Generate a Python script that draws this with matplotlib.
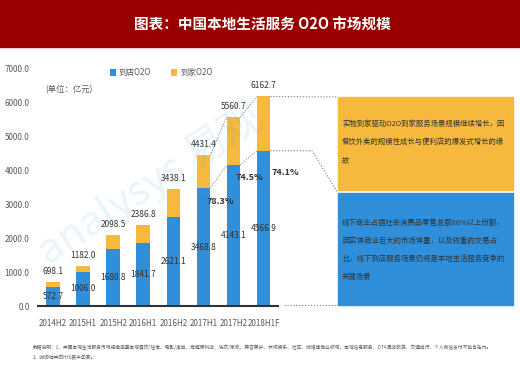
import numpy as np
import matplotlib
matplotlib.use("Agg")
import matplotlib.pyplot as plt
from matplotlib.patches import Rectangle
from matplotlib.lines import Line2D

plt.rcParams['font.family'] = ['Noto Sans CJK SC', 'DejaVu Sans']

# data
periods = ['2014H2', '2015H1', '2015H2', '2016H1', '2016H2', '2017H1', '2017H2', '2018H1F']
store = [572.7, 1006.0, 1680.8, 1841.7, 2621.1, 3468.8, 4143.1, 4566.9]     # 到店O2O
total = [698.1, 1182.0, 2098.5, 2386.8, 3438.1, 4431.4, 5560.7, 6162.7]     # 到店+到家
home = [t - s for t, s in zip(total, store)]                                 # 到家O2O
share_txt = ['78.3%', '74.5%', '74.1%']
share_xy = [(5.55, 3060), (6.51, 3790), (7.72, 3940)]

blue = '#2F8FDA'
orange = '#F6B93D'
gray = '#595959'
W, H = 520, 382

fig = plt.figure(figsize=(5.2, 3.82), dpi=100)

def fx(px):
    return px / W

def fy(py):
    return 1 - py / H

# title bar
fig.add_artist(Rectangle((0, fy(47)), 1, 47 / H, transform=fig.transFigure,
                         color='#990000', zorder=0))
fig.text(0.505, fy(25), '图表：中国本地生活服务 O2O 市场规模', color='white',
         fontsize=10.5, fontweight='bold', ha='center', va='center')

ax = fig.add_axes([fx(38), fy(306), fx(278) - fx(38), fy(68) - fy(306)])
x = np.arange(len(periods))
w = 0.45
ax.bar(x, store, w, color=blue, label='到店O2O', zorder=2)
ax.bar(x, home, w, bottom=store, color=orange, label='到家O2O', zorder=2)

ax.set_xlim(-0.5, 7.48)
ax.set_ylim(0, 7000)
ax.set_yticks(np.arange(0, 7001, 1000))
ax.set_yticklabels([f'{v:.1f}' for v in np.arange(0, 7001, 1000)])
ax.set_xticks(x)
ax.set_xticklabels(periods)
ax.tick_params(axis='both', length=0, labelsize=5.8, colors=gray)
ax.tick_params(axis='x', pad=9)
ax.tick_params(axis='y', pad=6)
for s in ['top', 'right', 'left']:
    ax.spines[s].set_visible(False)
ax.spines['bottom'].set_linewidth(1.5)
ax.spines['bottom'].set_color('#333333')

for i in range(len(periods)):
    ax.text(x[i], store[i] / 2, f'{store[i]:.1f}', ha='center', va='center',
            fontsize=6, color='#333333', zorder=3)
    ax.text(x[i], total[i] + 180, f'{total[i]:.1f}', ha='center', va='bottom',
            fontsize=6, color='#333333', zorder=3)

for t, (px, py) in zip(share_txt, share_xy):
    ax.text(px, py, t, ha='center', va='center', fontsize=6.5,
            fontweight='bold', color='#333333', clip_on=False)

# dotted connectors between bars
for i in [5, 6]:
    for vals in (total, store):
        ax.plot([x[i] + w / 2, x[i + 1] - w / 2], [vals[i], vals[i + 1]],
                ls=':', color='#777777', lw=0.7, zorder=1)

ax.legend(loc='upper left', bbox_to_anchor=(0.27, 1.03), ncol=2, frameon=False,
          fontsize=5.8, handlelength=0.7, handleheight=0.9, columnspacing=2.5,
          labelcolor=gray, handletextpad=0.4)
fig.text(fx(45), fy(90), '(单位：亿元)', fontsize=6, color=gray, va='center')

# watermark
fig.text(fx(150), fy(185), 'analysys 易观', fontsize=30, color='#4aa3df',
         alpha=0.12, rotation=33, ha='center', va='center', zorder=5,
         fontstyle='italic')

# right-hand boxes
fig.add_artist(Rectangle((fx(338), fy(190)), fx(513) - fx(338), (190 - 97) / H,
                         transform=fig.transFigure, color=orange, zorder=1))
fig.add_artist(Rectangle((fx(338), fy(305)), fx(513) - fx(338), (305 - 193) / H,
                         transform=fig.transFigure, color=blue, zorder=1))
fig.text(fx(342), fy(120),
         '实物到家驱动O2O到家服务场景规模继续增长，因\n'
         '餐饮外卖的规模性成长与便利店的爆发式增长的缘\n故',
         fontsize=5.3, color='#333333', va='top', linespacing=2.65)
fig.text(fx(342), fy(219),
         '线下商业占据社会消费品零售总额80%以上份额，\n'
         '因实体商业巨大的市场体量，以及较重的交易占\n'
         '比，线下到店服务场景仍将是本地生活服务竞争的\n关键场景',
         fontsize=5.3, color='#333333', va='top', linespacing=2.65)

# connectors from last bar to boxes
fig.canvas.draw()
def to_fig(pt):
    return fig.transFigure.inverted().transform(ax.transData.transform(pt))

p_top = to_fig((x[7] + w / 2, total[7]))
p_mid = to_fig((x[7] + w / 2, store[7]))
lk = dict(ls=':', color='#777777', lw=0.8, transform=fig.transFigure)
fig.add_artist(Line2D([p_top[0], fx(338)], [p_top[1], fy(97)], **lk))
fig.add_artist(Line2D([p_mid[0], fx(312), fx(338)], [p_mid[1], p_mid[1], fy(193)], **lk))
fig.add_artist(Line2D([fx(284), fx(338)], [fy(305), fy(305)], **lk))

# footnote
fig.text(fx(33), fy(347),
         '数据说明：1、中国本地生活服务市场规模涵盖本地餐饮/住宿、电影/演出、商超便利店、洗衣/家政、美容美护、休闲娱乐、社区、'
         '结婚等商业领域；本地信息服务、OTA酒店旅游、交通出行、个人微信支付不包含在内。',
         fontsize=3.4, color=gray, va='center')
fig.text(fx(33), fy(357), '2、时间轴中的H代表半年度。', fontsize=3.4, color=gray, va='center')

fig.savefig('out.png', dpi=100)
